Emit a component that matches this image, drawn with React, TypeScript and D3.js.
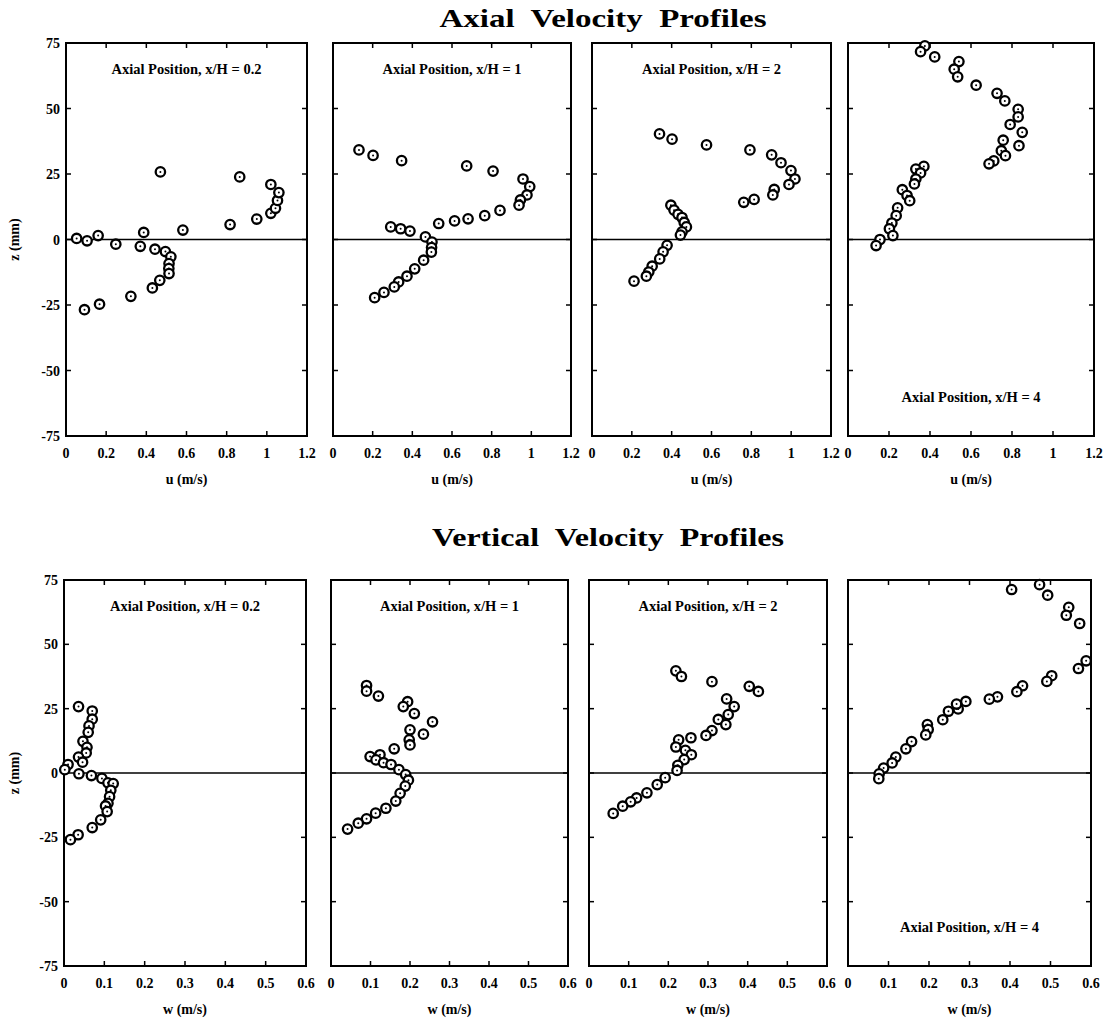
import React from "react";
import * as d3 from "d3";

// ---- data: [velocity (m/s), z (mm)] ----
const axialXH02: [number, number][] = [
  [0.053, 0.4], [0.105, -0.5], [0.16, 1.5], [0.248, -1.8], [0.37, -2.6], [0.387, 2.7],
  [0.443, -3.7], [0.495, -4.6], [0.522, -6.6], [0.513, -9.2], [0.512, -11.1], [0.513, -13],
  [0.467, -15.6], [0.43, -18.5], [0.323, -21.7], [0.167, -24.7], [0.092, -26.8], [0.47, 25.8],
  [0.582, 3.6], [0.817, 5.7], [0.865, 23.9], [0.95, 7.8], [1.02, 10], [1.043, 11.9],
  [1.053, 14.9], [1.06, 17.9], [1.02, 21],
];
const axialXH1: [number, number][] = [
  [0.131, 34.2], [0.202, 32.1], [0.346, 30.1], [0.674, 28.1], [0.807, 26.1], [0.958, 23.1],
  [0.992, 20.2], [0.978, 17], [0.945, 15.1], [0.938, 13.1], [0.842, 11.1], [0.765, 9.1],
  [0.681, 7.9], [0.613, 7.1], [0.533, 6.1], [0.291, 4.8], [0.341, 4.1], [0.388, 3.2],
  [0.466, 1], [0.499, -1], [0.497, -3.1], [0.496, -4.8], [0.457, -7.9], [0.412, -11.2],
  [0.373, -14], [0.331, -16.2], [0.309, -18.1], [0.257, -20.2], [0.21, -22.2],
];
const axialXH2: [number, number][] = [
  [0.339, 40.3], [0.402, 38.3], [0.575, 36.1], [0.793, 34.2], [0.902, 32.3], [0.949, 29.3],
  [0.999, 26.3], [1.019, 23.1], [0.989, 21], [0.915, 19.1], [0.908, 17], [0.814, 15.3],
  [0.762, 14.2], [0.396, 13.1], [0.412, 11.2], [0.432, 9.6], [0.452, 8.4], [0.463, 6.5],
  [0.474, 4.8], [0.452, 2.9], [0.444, 1.7], [0.377, -2.2], [0.357, -4.7], [0.34, -7.4],
  [0.302, -10.2], [0.285, -12.4], [0.273, -14], [0.211, -15.9],
];
const axialXH4: [number, number][] = [
  [0.375, 73.9], [0.354, 71.7], [0.423, 69.7], [0.541, 67.9], [0.518, 65], [0.535, 62.1],
  [0.625, 58.9], [0.727, 55.8], [0.765, 52.9], [0.83, 49.7], [0.83, 46.8], [0.791, 43.9],
  [0.85, 40.9], [0.757, 37.9], [0.834, 35.8], [0.748, 33.9], [0.768, 32], [0.711, 30],
  [0.688, 28.9], [0.37, 27.9], [0.331, 26.9], [0.354, 25.4], [0.331, 23.1], [0.324, 21.2],
  [0.265, 19], [0.288, 16.8], [0.301, 14.8], [0.242, 12.1], [0.235, 9.1], [0.214, 6.3],
  [0.202, 4.1], [0.219, 1.5], [0.156, 0], [0.137, -2.3],
];
const vertXH02: [number, number][] = [
  [0.036, 25.8], [0.07, 24.1], [0.07, 20.9], [0.062, 18.3], [0.06, 15.8], [0.047, 12.3],
  [0.057, 10], [0.055, 7.8], [0.036, 6.2], [0.046, 4.2], [0.01, 3.3], [0.002, 1.3],
  [0.037, -0.3], [0.068, -1], [0.094, -2.1], [0.109, -3.8], [0.122, -4.1], [0.116, -6.7],
  [0.113, -9.2], [0.109, -11.8], [0.103, -12.8], [0.107, -15], [0.091, -18.2], [0.07, -21.2],
  [0.035, -24], [0.016, -25.9],
];
const vertXH1: [number, number][] = [
  [0.09, 34], [0.09, 31.8], [0.12, 29.9], [0.194, 27.7], [0.183, 25.8], [0.211, 23.1],
  [0.257, 19.9], [0.2, 16.8], [0.234, 15.1], [0.198, 12.9], [0.2, 10.9], [0.16, 9.4],
  [0.099, 6.4], [0.124, 7.1], [0.114, 5.1], [0.133, 4], [0.152, 3.3], [0.172, 1.3],
  [0.189, -0.6], [0.196, -2.8], [0.188, -5.1], [0.175, -7.9], [0.164, -10.9], [0.139, -13.7],
  [0.113, -15.6], [0.09, -17.8], [0.069, -19.5], [0.042, -21.8],
];
const vertXH2: [number, number][] = [
  [0.219, 39.7], [0.233, 37.5], [0.31, 35.5], [0.404, 33.7], [0.427, 31.7], [0.347, 28.8],
  [0.366, 25.8], [0.351, 22.7], [0.326, 20.8], [0.345, 18.8], [0.31, 16.5], [0.295, 14.6],
  [0.257, 13.7], [0.226, 12.9], [0.219, 10.1], [0.243, 8.8], [0.258, 7.1], [0.24, 5.2],
  [0.224, 3], [0.222, 1], [0.192, -1.8], [0.172, -4.5], [0.146, -7.7], [0.12, -9.7],
  [0.105, -11.2], [0.085, -12.9], [0.061, -15.7],
];
const vertXH4: [number, number][] = [
  [0.404, 71.3], [0.473, 73.2], [0.493, 69.1], [0.545, 64.4], [0.539, 61.3], [0.572, 58.1],
  [0.588, 43.6], [0.569, 40.6], [0.503, 37.8], [0.491, 35.6], [0.431, 33.9], [0.417, 31.6],
  [0.369, 29.6], [0.349, 28.7], [0.291, 27.8], [0.272, 24.9], [0.268, 26.8], [0.248, 24],
  [0.234, 20.7], [0.196, 18.8], [0.198, 16.9], [0.192, 14.8], [0.157, 12.2], [0.143, 9.4],
  [0.118, 6.2], [0.109, 3.9], [0.088, 1.9], [0.077, -0.3], [0.076, -2.2],
];

const panelLabels = ["Axial Position, x/H = 0.2", "Axial Position, x/H = 1", "Axial Position, x/H = 2", "Axial Position, x/H = 4"];
const uTicks = [0, 0.2, 0.4, 0.6, 0.8, 1, 1.2];
const wTicks = [0, 0.1, 0.2, 0.3, 0.4, 0.5, 0.6];
const zTicks = [75, 50, 25, 0, -25, -50, -75];

// ---- layout ----
const FONT = "'Liberation Serif', 'Times New Roman', serif";
const rows = [
  {
    title: "Axial  Velocity  Profiles", titleX: 603, titleY: 27, titleLen: 327,
    top: 43, bottom: 436, lefts: [66, 333, 592, 848], rights: [307, 571, 831, 1094],
    xTicks: uTicks, xLabel: "u (m/s)", series: [axialXH02, axialXH1, axialXH2, axialXH4],
  },
  {
    title: "Vertical  Velocity  Profiles", titleX: 608, titleY: 546, titleLen: 352,
    top: 580, bottom: 966, lefts: [64, 331, 589, 848], rights: [306, 568, 827, 1091],
    xTicks: wTicks, xLabel: "w (m/s)", series: [vertXH02, vertXH1, vertXH2, vertXH4],
  },
];

const Panel = ({ row, i }: { row: typeof rows[number]; i: number }) => {
  const left = row.lefts[i], right = row.rights[i];
  const x = d3.scaleLinear().domain(d3.extent(row.xTicks) as [number, number]).range([left, right]);
  const y = d3.scaleLinear().domain([-75, 75]).range([row.bottom, row.top]);
  const cx = (left + right) / 2;
  const labelY = i === 3 ? y(-60) + 5 : y(65) + 5;
  const inner = row.xTicks.slice(1, -1);
  const innerZ = zTicks.slice(1, -1);
  return (
    <g>
      {/* zero line */}
      <line x1={left} x2={right} y1={y(0)} y2={y(0)} stroke="#000" strokeWidth={1.5} />
      {inner.map((t) => (
        <g key={"xt" + t}>
          <line x1={x(t)} x2={x(t)} y1={row.top} y2={row.top + 5} stroke="#000" strokeWidth={1.5} />
          <line x1={x(t)} x2={x(t)} y1={row.bottom} y2={row.bottom - 5} stroke="#000" strokeWidth={1.5} />
        </g>
      ))}
      {innerZ.map((t) => (
        <g key={"yt" + t}>
          <line x1={left} x2={left + 5} y1={y(t)} y2={y(t)} stroke="#000" strokeWidth={1.5} />
          <line x1={right} x2={right - 5} y1={y(t)} y2={y(t)} stroke="#000" strokeWidth={1.5} />
        </g>
      ))}
      <rect x={left} y={row.top} width={right - left} height={row.bottom - row.top} fill="none" stroke="#000" strokeWidth={2} />
      {row.xTicks.map((t) => (
        <text key={"xl" + t} x={x(t)} y={row.bottom + 22} textAnchor="middle" fontSize={14} fontWeight="bold">
          {String(t)}
        </text>
      ))}
      <text x={cx} y={row.bottom + 48} textAnchor="middle" fontSize={14} fontWeight="bold">{row.xLabel}</text>
      {i === 0 && (
        <g>
          {zTicks.map((t) => (
            <text key={"zl" + t} x={left - 6} y={y(t) + 5} textAnchor="end" fontSize={14} fontWeight="bold">{String(t)}</text>
          ))}
          <text transform={`translate(19,${y(0)}) rotate(-90)`} textAnchor="middle" fontSize={14} fontWeight="bold">z (mm)</text>
        </g>
      )}
      <text x={cx} y={labelY} textAnchor="middle" fontSize={14.5} fontWeight="bold">{panelLabels[i]}</text>
      {row.series[i].map((d, k) => (
        <g key={k}>
          <circle cx={x(d[0])} cy={y(d[1])} r={4.7} fill="#fff" stroke="#000" strokeWidth={2.3} />
          <circle cx={x(d[0])} cy={y(d[1])} r={1} fill="#000" />
        </g>
      ))}
    </g>
  );
};

export default function App() {
  return (
    <div style={{ position: "absolute", left: 0, top: 0 }}>
      <svg width={1109} height={1028} style={{ display: "block", background: "#fff" }} fontFamily={FONT}>
        {rows.map((row, r) => (
          <g key={r}>
            <text x={row.titleX} y={row.titleY} textAnchor="middle" fontSize={26} fontWeight="bold"
              textLength={row.titleLen} lengthAdjust="spacingAndGlyphs" style={{ whiteSpace: "pre" }}>
              {row.title}
            </text>
            {[0, 1, 2, 3].map((i) => <Panel key={i} row={row} i={i} />)}
          </g>
        ))}
      </svg>
    </div>
  );
}
